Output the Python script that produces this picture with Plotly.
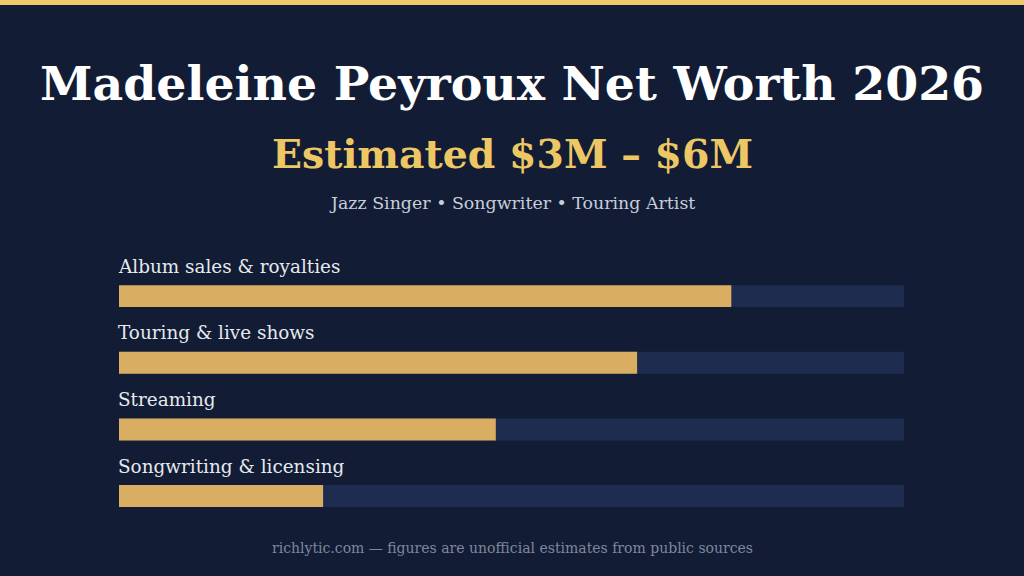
import plotly.graph_objects as go

# income sources, share of the estimate (% of full track)
sources = ["Album sales & royalties", "Touring & live shows", "Streaming", "Songwriting & licensing"]
shares = [78, 66, 48, 26]
track_max = [100, 100, 100, 100]

title = "Madeleine Peyroux Net Worth 2026"
estimate = "Estimated $3M \u2013 $6M"
tagline = "Jazz Singer \u2022 Songwriter \u2022 Touring Artist"
footer = "richlytic.com \u2014 figures are unofficial estimates from public sources"

BG = "#121d35"
GOLD = "#eec765"
FILL = "#d9ae62"
TRACK = "#1e2d4f"
FONT = "DejaVu Serif"

fig = go.Figure()

# background track
fig.add_trace(go.Bar(
    x=track_max, y=sources, orientation="h",
    marker=dict(color=TRACK, line=dict(width=0)),
    width=0.33, hoverinfo="skip", showlegend=False,
))
# filled part
fig.add_trace(go.Bar(
    x=shares, y=sources, orientation="h",
    marker=dict(color=FILL, line=dict(width=0)),
    width=0.33, showlegend=False,
))

# label above each bar
for s in sources:
    fig.add_annotation(
        x=0, y=s, xref="x", yref="y", text=s, showarrow=False,
        xanchor="left", yanchor="middle", yshift=30, xshift=-3,
        font=dict(family=FONT, size=18.4, color="#e6e9ef"),
    )

# header / footer texts
fig.add_annotation(x=0.5, y=1 - 83 / 576, xref="paper", yref="paper", text="<b>" + title + "</b>",
                   showarrow=False, xanchor="center", yanchor="middle",
                   font=dict(family=FONT, size=47.4, color="#ffffff"))
fig.add_annotation(x=0.5, y=1 - 154 / 576, xref="paper", yref="paper", text="<b>" + estimate + "</b>",
                   showarrow=False, xanchor="center", yanchor="middle",
                   font=dict(family=FONT, size=39.4, color=GOLD))
fig.add_annotation(x=0.5, y=1 - 203 / 576, xref="paper", yref="paper", text=tagline,
                   showarrow=False, xanchor="center", yanchor="middle",
                   font=dict(family=FONT, size=17.4, color="#c6cedc"))
fig.add_annotation(x=0.5, y=1 - 548 / 576, xref="paper", yref="paper", text=footer,
                   showarrow=False, xanchor="center", yanchor="middle",
                   font=dict(family=FONT, size=14, color="#7d889e"))

# top gold strip
fig.add_shape(type="rect", xref="paper", yref="paper", x0=0, x1=1, y0=1 - 5 / 576, y1=1,
              fillcolor="#f0c96a", line=dict(width=0), layer="above")

fig.update_layout(
    width=1024, height=576,
    margin=dict(l=0, r=0, t=0, b=0),
    paper_bgcolor=BG, plot_bgcolor=BG,
    barmode="overlay",
    xaxis=dict(domain=[119 / 1024, 904 / 1024], range=[0, 100], visible=False, fixedrange=True),
    yaxis=dict(range=[4.2, -4.444], visible=False, fixedrange=True,
               categoryorder="array", categoryarray=sources),
)

# drop the default page margin so the chart sits at the window corner
fig.write_html("out.html", config={"displayModeBar": False},
               post_script="document.body.style.margin='0';document.body.style.overflow='hidden';")
